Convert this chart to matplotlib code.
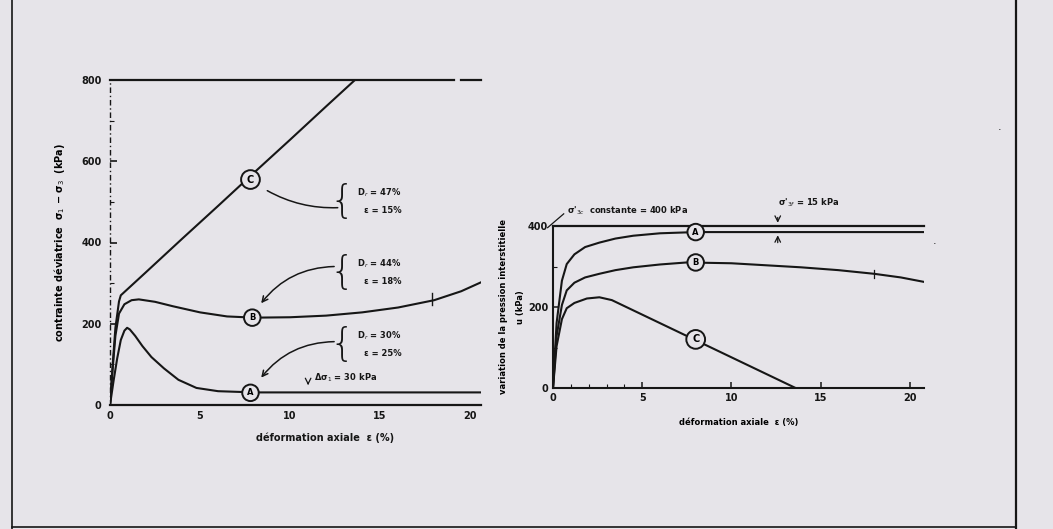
import numpy as np
import matplotlib.pyplot as plt
from matplotlib.lines import Line2D

# ---- data ----
# left: deviator stress (kPa) vs axial strain (%)
eps_c = [0, 0.15, 0.3, 0.5, 0.6, 2, 4, 6, 8, 10, 12, 13.6]
q_c = [0, 100, 190, 255, 270, 327, 409, 490, 572, 653, 735, 800]

eps_b = [0, 0.15, 0.3, 0.5, 0.8, 1.2, 1.6, 2.5, 3.5, 5, 6.5, 8, 10, 12, 14, 16, 18, 19.5, 20.6]
q_b = [0, 90, 170, 225, 248, 258, 260, 254, 243, 228, 218, 215, 216, 220, 228, 240, 258, 280, 302]

eps_a = [0, 0.2, 0.4, 0.6, 0.8, 0.95, 1.1, 1.4, 1.8, 2.3, 3, 3.8, 4.8, 6, 8, 20.6]
q_a = [0, 60, 115, 160, 183, 190, 186, 170, 145, 118, 90, 62, 42, 34, 31, 31]

# right: pore pressure change (kPa) vs axial strain (%)
eps_ua = [0, 0.2, 0.5, 0.77, 1.2, 1.8, 2.6, 3.5, 4.5, 6, 8, 20.8]
u_a = [0, 160, 265, 306, 330, 348, 359, 369, 376, 382, 385, 385]

eps_ub = [0, 0.2, 0.5, 0.77, 1.2, 1.8, 2.6, 3.5, 4.5, 6, 7.5, 10, 13.9, 16, 18, 19.5, 20.8]
u_b = [0, 128, 205, 241, 260, 273, 282, 291, 298, 305, 310, 308, 298, 291, 282, 273, 262]

eps_uc = [0, 0.2, 0.5, 0.77, 1.2, 1.9, 2.6, 3.3, 8, 13.6]
u_c = [0, 103, 170, 197, 210, 221, 224, 217, 118, 0]

sigma_3c = 400
ink = '#161616'
bg = '#e6e4e9'
fs = 7

fig = plt.figure(figsize=(10.53, 5.29), dpi=100, facecolor=bg)

# frame lines of the scanned page
fig.add_artist(Line2D([12 / 1053, 12 / 1053], [0, 1], color=ink, lw=1.2))
fig.add_artist(Line2D([1016 / 1053, 1016 / 1053], [0, 1], color=ink, lw=1.6))
fig.add_artist(Line2D([12 / 1053, 1016 / 1053], [2 / 529, 2 / 529], color=ink, lw=1.2))

# ---------------- left chart ----------------
ax1 = fig.add_axes([110 / 1053, 124 / 529, 371 / 1053, 325 / 529])
ax1.set_facecolor(bg)
ax1.set_xlim(0, 20.6)
ax1.set_ylim(0, 800)
for s in ['top', 'right', 'left']:
    ax1.spines[s].set_visible(False)
ax1.spines['bottom'].set_linewidth(1.6)
ax1.spines['bottom'].set_color(ink)
ax1.plot([0, 0], [0, 800], color=ink, lw=1.0, ls=(0, (4, 2, 1, 2)), clip_on=False)
ax1.plot([0, 19.1], [800, 800], color=ink, lw=1.6, clip_on=False)
ax1.plot([19.5, 20.6], [800, 800], color=ink, lw=1.6, clip_on=False)

ax1.plot(eps_c, q_c, color=ink, lw=1.5)
ax1.plot(eps_b, q_b, color=ink, lw=1.5)
ax1.plot(eps_a, q_a, color=ink, lw=1.5)

ax1.set_xticks([0, 5, 10, 15, 20])
ax1.set_yticks([0, 200, 400, 600, 800])
ax1.set_yticks([100, 300, 500, 700], minor=True)
ax1.tick_params(axis='y', direction='in', length=5, width=1.2, colors=ink, labelsize=fs, pad=6)
ax1.tick_params(axis='y', which='minor', direction='in', length=3, width=0.8, colors=ink)
ax1.tick_params(axis='x', direction='in', length=0, colors=ink, labelsize=fs, pad=4)
for lab in ax1.get_xticklabels() + ax1.get_yticklabels():
    lab.set_fontweight('bold')

ax1.set_ylabel('contrainte déviatrice  σ$_1$ − σ$_3$  (kPa)', fontsize=fs, fontweight='bold', labelpad=10)
ax1.text(0.58, -0.085, 'déformation axiale  ε (%)', transform=ax1.transAxes, ha='center', va='top',
         fontsize=fs, fontweight='bold', color=ink)

circ = dict(boxstyle='circle,pad=0.45', facecolor=bg, edgecolor=ink, lw=1.4)
ax1.text(7.8, 555, 'C', ha='center', va='center', fontsize=fs, fontweight='bold', bbox=circ)
ax1.text(7.9, 215, 'B', ha='center', va='center', fontsize=fs - 1, fontweight='bold', bbox=circ)
ax1.text(7.8, 30, 'A', ha='center', va='center', fontsize=fs - 1, fontweight='bold', bbox=circ)

# leaders
ax1.annotate('', xy=(8.6, 531), xytext=(12.8, 486),
             arrowprops=dict(arrowstyle='-', color=ink, lw=1.1, connectionstyle='arc3,rad=-0.15'))
ax1.annotate('', xy=(8.3, 245), xytext=(12.6, 341),
             arrowprops=dict(arrowstyle='->', color=ink, lw=1.1, connectionstyle='arc3,rad=0.25'))
ax1.annotate('', xy=(8.3, 62), xytext=(12.6, 156),
             arrowprops=dict(arrowstyle='->', color=ink, lw=1.1, connectionstyle='arc3,rad=0.25'))

groups = [(500, 'D$_r$ = 47%', 'ε = 15%'),
          (326, 'D$_r$ = 44%', 'ε = 18%'),
          (148, 'D$_r$ = 30%', 'ε = 25%')]
for yc, l1, l2 in groups:
    ax1.text(12.85, yc, '{', ha='center', va='center', fontsize=28, color=ink, fontweight='light')
    ax1.text(13.7, yc + 22, l1, ha='left', va='center', fontsize=fs - 1, fontweight='bold', color=ink)
    ax1.text(14.1, yc - 22, l2, ha='left', va='center', fontsize=fs - 1, fontweight='bold', color=ink)

ax1.text(11.3, 66, 'Δσ$_1$ = 30 kPa', ha='left', va='center', fontsize=fs - 1, fontweight='bold', color=ink)
ax1.annotate('', xy=(11.0, 42), xytext=(11.0, 62),
             arrowprops=dict(arrowstyle='->', color=ink, lw=0.9))
ax1.plot([17.9, 17.9], [245, 275], color=ink, lw=1.0)

# ---------------- right chart ----------------
ax2 = fig.add_axes([553 / 1053, 141 / 529, 371 / 1053, 162 / 529])
ax2.set_facecolor(bg)
ax2.set_xlim(0, 20.8)
ax2.set_ylim(0, 400)
for s in ['top', 'right']:
    ax2.spines[s].set_visible(False)
for s in ['left', 'bottom']:
    ax2.spines[s].set_linewidth(1.5)
    ax2.spines[s].set_color(ink)
ax2.plot([0, 20.8], [sigma_3c, sigma_3c], color=ink, lw=1.6, clip_on=False)

ax2.plot(eps_ua, u_a, color=ink, lw=1.5)
ax2.plot(eps_ub, u_b, color=ink, lw=1.5)
ax2.plot(eps_uc, u_c, color=ink, lw=1.5)

ax2.set_xticks([0, 5, 10, 15, 20])
ax2.set_xticks([1, 2, 3, 4, 10, 20], minor=True)
ax2.set_yticks([0, 200, 400])
ax2.set_yticks([100, 300], minor=True)
ax2.tick_params(axis='both', which='major', direction='in', length=4, width=1.1, colors=ink, labelsize=fs)
ax2.tick_params(axis='both', which='minor', direction='in', length=3, width=0.8, colors=ink)
for lab in ax2.get_xticklabels() + ax2.get_yticklabels():
    lab.set_fontweight('bold')

ax2.set_ylabel('variation de la pression interstitielle\nu (kPa)', fontsize=fs - 1, fontweight='bold',
               labelpad=2, linespacing=2.2)
ax2.set_xlabel('déformation axiale  ε (%)', fontsize=fs - 1, fontweight='bold', labelpad=11)

ax2.text(8.0, 385, 'A', ha='center', va='center', fontsize=fs - 1, fontweight='bold', bbox=circ)
ax2.text(8.0, 310, 'B', ha='center', va='center', fontsize=fs - 1, fontweight='bold', bbox=circ)
ax2.text(8.0, 120, 'C', ha='center', va='center', fontsize=fs, fontweight='bold', bbox=circ)

ax2.text(0.8, 438, "σ'$_{3c}$  constante = 400 kPa", ha='left', va='center', fontsize=fs - 1,
         fontweight='bold', color=ink)
ax2.plot([-0.3, 0.6], [396, 430], color=ink, lw=0.9, clip_on=False)
ax2.text(12.6, 458, "σ'$_{3f}$ = 15 kPa", ha='left', va='center', fontsize=fs - 1,
         fontweight='bold', color=ink)
ax2.annotate('', xy=(12.6, 401), xytext=(12.6, 428),
             arrowprops=dict(arrowstyle='->', color=ink, lw=0.9), annotation_clip=False)
ax2.annotate('', xy=(12.6, 384), xytext=(12.6, 352),
             arrowprops=dict(arrowstyle='->', color=ink, lw=0.9))
ax2.plot([18.0, 18.0], [272, 292], color=ink, lw=0.9)

# specks from the scan
fig.text(1000 / 1053, 1 - 127 / 529, '.', fontsize=8, color=ink, ha='center', va='center')
fig.text(935 / 1053, 1 - 241 / 529, '.', fontsize=8, color=ink, ha='center', va='center')

fig.savefig('out.png', dpi=100, facecolor=bg)
